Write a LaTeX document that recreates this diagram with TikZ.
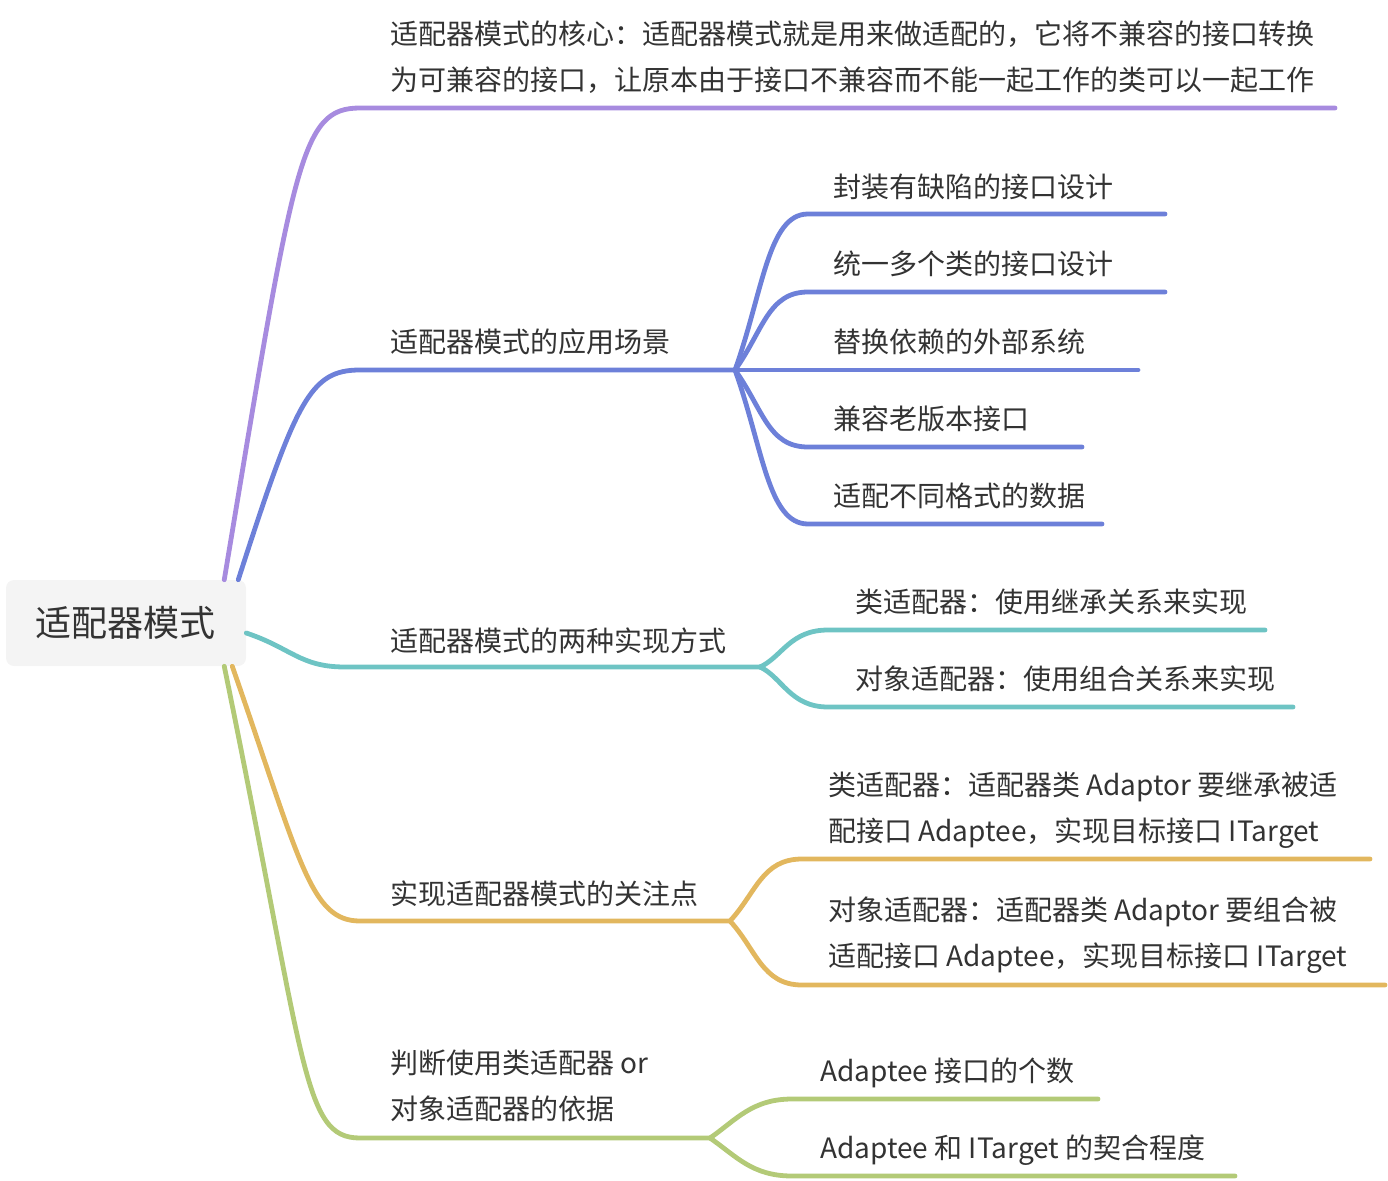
\documentclass[tikz,border=0pt]{standalone}
\usepackage{fontspec}
\setmainfont{Noto Sans CJK SC}
\usepackage{xcolor}
\usetikzlibrary{positioning, calc}

\definecolor{corepurple}{HTML}{A78BDF}
\definecolor{sceneblue}{HTML}{6D80D9}
\definecolor{waysteal}{HTML}{6EC4C4}
\definecolor{focusgold}{HTML}{E2B75E}
\definecolor{choicegreen}{HTML}{B3CA77}
\definecolor{rootgray}{HTML}{F4F4F4}
\definecolor{inkgray}{HTML}{333333}

\begin{document}
\begin{tikzpicture}[
    x=0.75pt, y=-0.75pt,
    rootbox/.style={
        rectangle,
        rounded corners=6pt,
        fill=rootgray,
        minimum width=180pt,
        minimum height=64.5pt,
        inner sep=0pt,
        text=inkgray,
        font=\fontsize{27}{32}\selectfont
    },
    topic/.style={
        anchor=base west,
        inner sep=0pt,
        align=left,
        text=inkgray,
        font=\fontsize{21}{34.5}\selectfont
    },
    branch/.style={line width=3.6pt, line cap=round}
]
\useasboundingbox (0,0) rectangle (1388,1181);

\node[rootbox] (root) at (126,623) {适配器模式};

% first level
\coordinate (coreknee) at (360,108);
\coordinate (coreend) at (1335,108);
\node[topic] (core) at (390,90) {适配器模式的核心：适配器模式就是用来做适配的，它将不兼容的接口转换\\为可兼容的接口，让原本由于接口不兼容而不能一起工作的类可以一起工作};

\coordinate (sceneknee) at (360,370);
\coordinate (scenefan) at (735,370);
\node[topic] (scene) at (390,352) {适配器模式的应用场景};

\coordinate (waysknee) at (345,667);
\coordinate (waysfan) at (760,667);
\node[topic] (ways) at (390,651) {适配器模式的两种实现方式};

\coordinate (focusknee) at (360,921);
\coordinate (focusfan) at (730,921);
\node[topic] (focus) at (390,904) {实现适配器模式的关注点};

\coordinate (choiceknee) at (360,1138);
\coordinate (choicefan) at (710,1138);
\node[topic] (choice) at (390,1119) {判断使用类适配器 or\\对象适配器的依据};

\draw[branch, corepurple] ($(root.north east)+(-22,0)$) .. controls +(70,-420) and +(-60,0) .. (coreknee) -- (coreend);
\draw[branch, sceneblue] ($(root.north east)+(-8,0)$) .. controls +(58,-180) and +(-50,0) .. (sceneknee) -- (scenefan);
\draw[branch, waysteal] ($(root.east)+(0,10)$) .. controls +(45,15) and +(-45,0) .. (waysknee) -- (waysfan);
\draw[branch, focusgold] ($(root.south east)+(-14,0)$) .. controls +(68,195) and +(-50,0) .. (focusknee) -- (focusfan);
\draw[branch, choicegreen] ($(root.south east)+(-22,0)$) .. controls +(82,400) and +(-58,0) .. (choiceknee) -- (choicefan);

% scenes
\coordinate (scene1knee) at (808,214);
\coordinate (scene1end) at (1165,214);
\node[topic] (scene1) at (833,197) {封装有缺陷的接口设计};
\coordinate (scene2knee) at (808,292);
\coordinate (scene2end) at (1165,292);
\node[topic] (scene2) at (833,274) {统一多个类的接口设计};
\coordinate (scene3end) at (1138,370);
\node[topic] (scene3) at (833,352) {替换依赖的外部系统};
\coordinate (scene4knee) at (808,447);
\coordinate (scene4end) at (1082,447);
\node[topic] (scene4) at (833,429) {兼容老版本接口};
\coordinate (scene5knee) at (808,524);
\coordinate (scene5end) at (1102,524);
\node[topic] (scene5) at (833,506) {适配不同格式的数据};

\draw[branch, sceneblue] (scenefan) .. controls +(28,-78) and +(-40,0) .. (scene1knee) -- (scene1end);
\draw[branch, sceneblue] (scenefan) .. controls +(28,-39) and +(-40,0) .. (scene2knee) -- (scene2end);
\draw[branch, sceneblue] (scenefan) -- (scene3end);
\draw[branch, sceneblue] (scenefan) .. controls +(28,39) and +(-40,0) .. (scene4knee) -- (scene4end);
\draw[branch, sceneblue] (scenefan) .. controls +(28,78) and +(-40,0) .. (scene5knee) -- (scene5end);

% two ways
\coordinate (ways1knee) at (828,630);
\coordinate (ways1end) at (1265,630);
\node[topic] (ways1) at (855,612) {类适配器：使用继承关系来实现};
\coordinate (ways2knee) at (828,707);
\coordinate (ways2end) at (1293,707);
\node[topic] (ways2) at (855,689) {对象适配器：使用组合关系来实现};

\draw[branch, waysteal] (waysfan) .. controls +(22,-10) and +(-38,0) .. (ways1knee) -- (ways1end);
\draw[branch, waysteal] (waysfan) .. controls +(22,10) and +(-38,0) .. (ways2knee) -- (ways2end);

% focus points
\coordinate (focus1knee) at (802,859);
\coordinate (focus1end) at (1370,859);
\node[topic] (focus1) at (828,841) {类适配器：适配器类 Adaptor 要继承被适\\配接口 Adaptee，实现目标接口 ITarget};
\coordinate (focus2knee) at (802,985);
\coordinate (focus2end) at (1385,985);
\node[topic] (focus2) at (828,966) {对象适配器：适配器类 Adaptor 要组合被\\适配接口 Adaptee，实现目标接口 ITarget};

\draw[branch, focusgold] (focusfan) .. controls +(26,-28) and +(-40,0) .. (focus1knee) -- (focus1end);
\draw[branch, focusgold] (focusfan) .. controls +(26,28) and +(-40,0) .. (focus2knee) -- (focus2end);

% choice basis
\coordinate (choice1knee) at (792,1099);
\coordinate (choice1end) at (1098,1099);
\node[topic] (choice1) at (820,1081) {Adaptee 接口的个数};
\coordinate (choice2knee) at (792,1176);
\coordinate (choice2end) at (1235,1176);
\node[topic] (choice2) at (820,1158) {Adaptee 和 ITarget 的契合程度};

\draw[branch, choicegreen] (choicefan) .. controls +(26,-18) and +(-40,0) .. (choice1knee) -- (choice1end);
\draw[branch, choicegreen] (choicefan) .. controls +(26,18) and +(-40,0) .. (choice2knee) -- (choice2end);

\end{tikzpicture}
\end{document}
